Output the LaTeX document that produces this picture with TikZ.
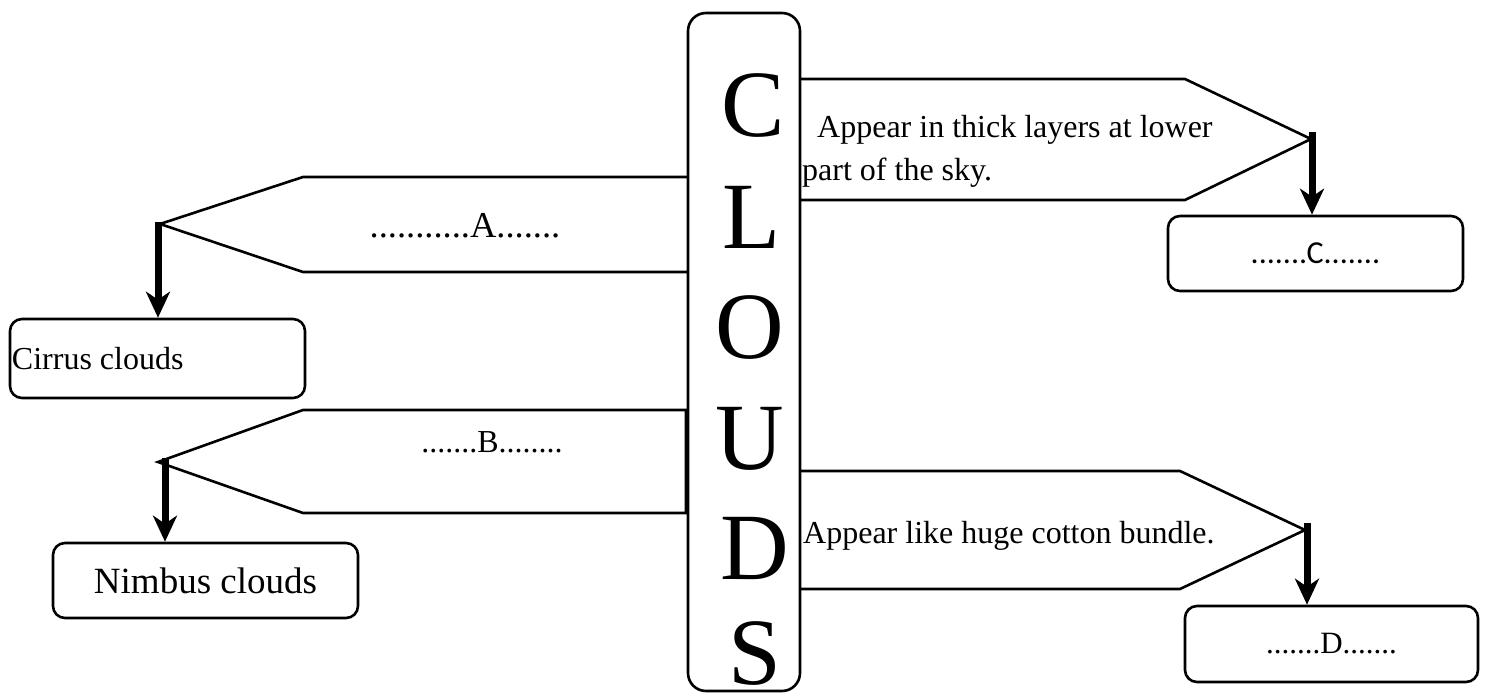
\documentclass[tikz,border=0pt]{standalone}
\usepackage{fontspec}
\setmainfont{Liberation Serif}
\newfontfamily\calibri{Carlito}
\usetikzlibrary{arrows.meta}
\tikzset{
  SignLine/.style = {draw = black, line width = 2.6pt},
  Post/.style = {draw = black, line width = 2.6pt, rounded corners = 18pt, inner sep = 0pt},
  InfoBox/.style = {draw = black, line width = 2.6pt, rounded corners = 12pt, inner sep = 2pt},
  BigLetter/.style = {inner sep = 0pt, font = \fontsize{95}{95}\selectfont},
  SignText/.style = {inner sep = 2pt, font = \fontsize{32}{43}\selectfont},
  Down/.style = {->, line width = 7pt}
}
\begin{document}
\begin{tikzpicture}[x=1pt, y=-1pt, >={Stealth[length=26pt, width=24pt, inset=8pt]}]
    \useasboundingbox (0,0) rectangle (1488,695);
    % the post with its letters
    \node [Post, minimum width = 112pt, minimum height = 678pt] (clouds) at (744,352) {};
    \node [BigLetter, anchor = base] (lC) at (753,137) {C};
    \node [BigLetter, anchor = base] (lL) at (752,248) {L};
    \node [BigLetter, anchor = base] (lO) at (750,358) {O};
    \node [BigLetter, anchor = base] (lU) at (750,469) {U};
    \node [BigLetter, anchor = base] (lD) at (755,579) {D};
    \node [BigLetter, anchor = base] (lS) at (755,684) {S};
    % signs
    \draw [SignLine] (688,177) -- (303,177) -- (160,224) -- (303,272) -- (688,272);
    \draw [SignLine] (686,410) -- (303,410) -- (158,462) -- (303,513) -- (686,513) -- cycle;
    \draw [SignLine] (800,79) -- (1185,79) -- (1311,139) -- (1185,200) -- (800,200);
    \draw [SignLine] (800,471) -- (1180,471) -- (1305,530) -- (1180,589) -- (800,589);
    \coordinate (tipA) at (158,222);
    \coordinate (tipB) at (165,458);
    \coordinate (tipC) at (1312,132);
    \coordinate (tipD) at (1307,523);
    \node [inner sep = 0pt, anchor = base, font = \fontsize{36.5}{40}\selectfont] (labA) at (465,237) {...........A.......};
    \node [inner sep = 0pt, anchor = base, font = \fontsize{32}{38}\selectfont] (labB) at (492,452) {.......B........};
    \node [SignText, anchor = west, align = flush left] (txtC) at (800,151) {\hspace*{15pt}Appear in thick layers at lower\\part of the sky.};
    \node [SignText, anchor = base west] (txtD) at (801,543) {Appear like huge cotton bundle.};
    % boxes
    \node [InfoBox, minimum width = 295pt, minimum height = 79pt, text width = 291pt, align = flush left,
        font = \fontsize{32}{38}\selectfont] (cirrus) at (157.5,358.5) {Cirrus clouds};
    \node [InfoBox, minimum width = 305pt, minimum height = 75pt,
        font = \fontsize{37}{40}\selectfont] (nimbus) at (205.5,580.5) {Nimbus clouds};
    \node [InfoBox, minimum width = 295pt, minimum height = 75pt,
        font = \calibri\fontsize{32}{38}\selectfont] (boxC) at (1315.5,253.5) {.......C.......};
    \node [InfoBox, minimum width = 293pt, minimum height = 76pt,
        font = \fontsize{31}{38}\selectfont] (boxD) at (1331.5,644) {.......D.......};
    % arrows
    \draw [Down] (tipA) -- (tipA |- cirrus.north);
    \draw [Down] (tipB) -- (tipB |- nimbus.north);
    \draw [Down] (tipC) -- (tipC |- boxC.north);
    \draw [Down] (tipD) -- (tipD |- boxD.north);
\end{tikzpicture}
\end{document}
